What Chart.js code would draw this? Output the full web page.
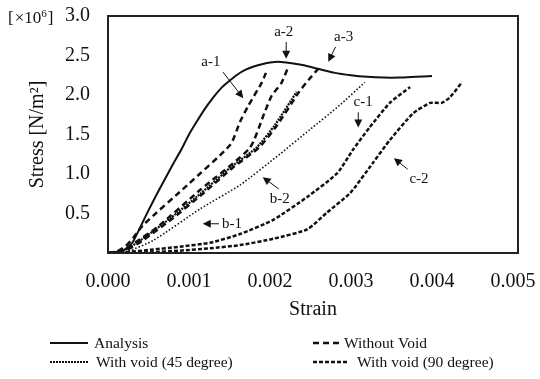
<!DOCTYPE html>
<html>
<head>
<meta charset="utf-8">
<script src="https://cdn.jsdelivr.net/npm/chart.js@4.4.1/dist/chart.umd.min.js"></script>
<style>
  html, body { margin: 0; padding: 0; background: #fff; }
</style>
</head>
<body>
<canvas id="grafica" width="540" height="379"></canvas>
<script>
// strain / stress readings (stress in 10^6 N/m2)
const analysisStrain = [0, 0.0001, 0.0002, 0.0003, 0.0004, 0.0005, 0.0006, 0.0007, 0.0008, 0.0009, 0.001, 0.0011, 0.0012, 0.0013, 0.0014, 0.0015, 0.0016, 0.0017, 0.0018, 0.0019, 0.002, 0.0021, 0.0022, 0.0024, 0.0026, 0.0028, 0.003, 0.0032, 0.0034, 0.0036, 0.0038, 0.004];
const analysisStress = [0, 0.01, 0.04, 0.13, 0.33, 0.54, 0.74, 0.93, 1.12, 1.3, 1.5, 1.67, 1.83, 1.97, 2.09, 2.18, 2.26, 2.32, 2.36, 2.39, 2.41, 2.42, 2.41, 2.38, 2.33, 2.28, 2.25, 2.23, 2.22, 2.22, 2.23, 2.24];

const a1Strain = [0, 0.00009, 0.00021, 0.00031, 0.00043, 0.00098, 0.00151, 0.00163, 0.00173, 0.0019, 0.00195];
const a1Stress = [0, 0.01, 0.08, 0.19, 0.35, 0.86, 1.37, 1.66, 1.86, 2.16, 2.28];
const a2Strain = [0, 0.00015, 0.00033, 0.0006, 0.00114, 0.00175, 0.00193, 0.00202, 0.00214, 0.00222];
const a2Stress = [0, 0.01, 0.13, 0.32, 0.8, 1.33, 1.77, 1.99, 2.15, 2.34];
const a3Strain = [0, 0.00023, 0.00043, 0.0008, 0.00117, 0.00154, 0.00187, 0.00209, 0.00236, 0.0025, 0.00263];
const a3Stress = [0, 0.04, 0.16, 0.44, 0.75, 1.08, 1.34, 1.62, 2.04, 2.22, 2.37];

const b1Strain = [0, 0.00021, 0.0004, 0.00077, 0.00114, 0.00151, 0.00184, 0.00206, 0.00233];
const b1Stress = [0, 0.04, 0.16, 0.44, 0.75, 1.08, 1.34, 1.62, 2.04];
const b2Strain = [0, 0.00021, 0.00056, 0.00114, 0.00163, 0.00212, 0.00249, 0.00286, 0.00317];
const b2Stress = [0, 0.01, 0.16, 0.56, 0.86, 1.25, 1.56, 1.87, 2.16];

const c1Strain = [0, 0.00021, 0.00052, 0.00089, 0.00126, 0.00163, 0.00204, 0.00246, 0.00283, 0.00302, 0.00323, 0.00348, 0.00373];
const c1Stress = [0, 0.01, 0.04, 0.08, 0.13, 0.24, 0.42, 0.71, 1.01, 1.3, 1.59, 1.9, 2.1];
const c2Strain = [0, 0.00021, 0.00052, 0.00089, 0.00126, 0.00163, 0.00204, 0.00246, 0.0027, 0.00299, 0.00327, 0.00348, 0.00377, 0.00398, 0.00412, 0.00422, 0.00437];
const c2Stress = [0, 0, 0.01, 0.03, 0.06, 0.1, 0.18, 0.3, 0.51, 0.76, 1.14, 1.43, 1.77, 1.9, 1.9, 1.97, 2.16];

const xTicks = [0, 0.001, 0.002, 0.003, 0.004, 0.005];
const yTicks = [0.5, 1.0, 1.5, 2.0, 2.5, 3.0];

// labels on the curves: text spot and arrow, in strain/stress units
const notas = [
  { text: 'a-1', at: [0.00127, 2.42], from: [0.00142, 2.29], to: [0.00167, 1.96] },
  { text: 'a-2', at: [0.00217, 2.80], from: [0.0022, 2.67], to: [0.0022, 2.46] },
  { text: 'a-3', at: [0.00291, 2.73], from: [0.00281, 2.61], to: [0.00272, 2.42] },
  { text: 'b-1', at: [0.00153, 0.37], from: [0.00137, 0.37], to: [0.00117, 0.37] },
  { text: 'b-2', at: [0.00212, 0.68], from: [0.00211, 0.81], to: [0.00191, 0.96] },
  { text: 'c-1', at: [0.00315, 1.91], from: [0.00309, 1.78], to: [0.00309, 1.59] },
  { text: 'c-2', at: [0.00384, 0.94], from: [0.0037, 1.06], to: [0.00353, 1.2] }
];

const serif = "'Liberation Serif', 'DejaVu Serif', serif";
const puntos = (xs, ys) => xs.map((x, i) => ({ x: x, y: ys[i] }));

const estilos = {
  analysis: { dash: [], width: 2 },
  sinVacio: { dash: [6, 4], width: 2.5 },
  vacio45: { dash: [1.5, 2], width: 1.6 },
  vacio90: { dash: [4, 2], width: 2.5 }
};

function serie(label, xs, ys, est, extra) {
  return Object.assign({
    label: label,
    data: puntos(xs, ys),
    showLine: true,
    borderColor: '#111',
    backgroundColor: '#111',
    borderWidth: est.width,
    borderDash: est.dash,
    pointRadius: 0,
    tension: 0.2,
    fill: false
  }, extra || {});
}

const marcoYNotas = {
  id: 'marcoYNotas',
  afterDatasetsDraw(chart) {
    const { ctx, chartArea: a, scales: { x, y } } = chart;
    ctx.save();
    ctx.strokeStyle = '#222';
    ctx.lineWidth = 2;
    ctx.strokeRect(a.left, a.top, a.right - a.left, a.bottom - a.top);

    ctx.fillStyle = '#111';
    ctx.strokeStyle = '#111';
    ctx.lineWidth = 1;
    ctx.font = '15px ' + serif;
    ctx.textAlign = 'center';
    ctx.textBaseline = 'middle';
    notas.forEach(n => {
      ctx.fillText(n.text, x.getPixelForValue(n.at[0]), y.getPixelForValue(n.at[1]));
      const x1 = x.getPixelForValue(n.from[0]), y1 = y.getPixelForValue(n.from[1]);
      const x2 = x.getPixelForValue(n.to[0]), y2 = y.getPixelForValue(n.to[1]);
      const ang = Math.atan2(y2 - y1, x2 - x1);
      ctx.beginPath();
      ctx.moveTo(x1, y1);
      ctx.lineTo(x2 - 5 * Math.cos(ang), y2 - 5 * Math.sin(ang));
      ctx.stroke();
      ctx.beginPath();
      ctx.moveTo(x2, y2);
      ctx.lineTo(x2 - 8 * Math.cos(ang) + 4 * Math.sin(ang), y2 - 8 * Math.sin(ang) - 4 * Math.cos(ang));
      ctx.lineTo(x2 - 8 * Math.cos(ang) - 4 * Math.sin(ang), y2 - 8 * Math.sin(ang) + 4 * Math.cos(ang));
      ctx.closePath();
      ctx.fill();
    });
    ctx.restore();
  },
  afterDraw(chart) {
    const { ctx } = chart;
    ctx.save();
    ctx.fillStyle = '#111';
    ctx.textBaseline = 'middle';
    ctx.textAlign = 'left';
    // [x10^6] unit mark
    ctx.font = '17px ' + serif;
    let px = 8;
    ctx.fillText('[', px, 19); px += ctx.measureText('[').width + 1;
    ctx.fillText('×10', px, 19); px += ctx.measureText('×10').width;
    ctx.font = '11px ' + serif;
    ctx.fillText('6', px, 14); px += ctx.measureText('6').width + 1;
    ctx.font = '17px ' + serif;
    ctx.fillText(']', px, 19);

    // legend
    const filas = [
      { ds: 0, x1: 50, x2: 88, tx: 94, y: 343 },
      { ds: 1, x1: 313, x2: 341, tx: 344, y: 343 },
      { ds: 4, x1: 50, x2: 88, tx: 96, y: 362 },
      { ds: 6, x1: 313, x2: 347, tx: 357, y: 362 }
    ];
    ctx.font = '15.5px ' + serif;
    filas.forEach(f => {
      const d = chart.data.datasets[f.ds];
      ctx.strokeStyle = '#111';
      ctx.lineWidth = d.borderWidth;
      ctx.setLineDash(d.borderDash);
      ctx.beginPath();
      ctx.moveTo(f.x1, f.y);
      ctx.lineTo(f.x2, f.y);
      ctx.stroke();
      ctx.setLineDash([]);
      ctx.fillText(d.label, f.tx, f.y + 1);
    });
    ctx.restore();
  }
};

new Chart(document.getElementById('grafica'), {
  type: 'scatter',
  data: {
    datasets: [
      serie('Analysis', analysisStrain, analysisStress, estilos.analysis),
      serie('Without Void', a1Strain, a1Stress, estilos.sinVacio),
      serie('Without Void', a2Strain, a2Stress, estilos.sinVacio),
      serie('Without Void', a3Strain, a3Stress, estilos.sinVacio),
      serie('With void (45 degree)', b1Strain, b1Stress, estilos.vacio45, { borderWidth: 2.2, borderDash: [2, 1] }),
      serie('With void (45 degree)', b2Strain, b2Stress, estilos.vacio45),
      serie('With void (90 degree)', c1Strain, c1Stress, estilos.vacio90),
      serie('With void (90 degree)', c2Strain, c2Stress, estilos.vacio90)
    ]
  },
  options: {
    responsive: false,
    animation: false,
    devicePixelRatio: 1,
    layout: { padding: { top: 16, right: 22, left: 0, bottom: 0 } },
    plugins: {
      legend: { display: false },
      tooltip: { enabled: false }
    },
    scales: {
      x: {
        type: 'linear',
        min: 0,
        max: 0.005062,
        afterBuildTicks: s => { s.ticks = xTicks.map(v => ({ value: v })); },
        afterFit: s => {
          s.height = 126;
          s.paddingLeft = 0;
          s.paddingRight = 0;
        },
        grid: { display: false, drawTicks: false },
        border: { display: false },
        ticks: {
          color: '#111',
          padding: 17,
          font: { family: serif, size: 20 },
          callback: v => Number(v).toFixed(3)
        },
        title: {
          display: true,
          text: 'Strain',
          color: '#111',
          font: { family: serif, size: 20 },
          padding: { top: 0, bottom: 57 }
        }
      },
      y: {
        min: 0,
        max: 3,
        afterBuildTicks: s => { s.ticks = [0].concat(yTicks).map(v => ({ value: v })); },
        afterFit: s => {
          s.width = 108;
          s.paddingTop = 0;
          s.paddingBottom = 0;
        },
        grid: { display: false, drawTicks: false },
        border: { display: false },
        ticks: {
          color: '#111',
          padding: 18,
          font: { family: serif, size: 20 },
          callback: v => (v === 0 ? '' : Number(v).toFixed(1))
        },
        title: {
          display: true,
          text: 'Stress [N/m²]',
          color: '#111',
          font: { family: serif, size: 20 },
          padding: { top: 26, bottom: 0 }
        }
      }
    }
  },
  plugins: [marcoYNotas]
});
</script>
</body>
</html>
